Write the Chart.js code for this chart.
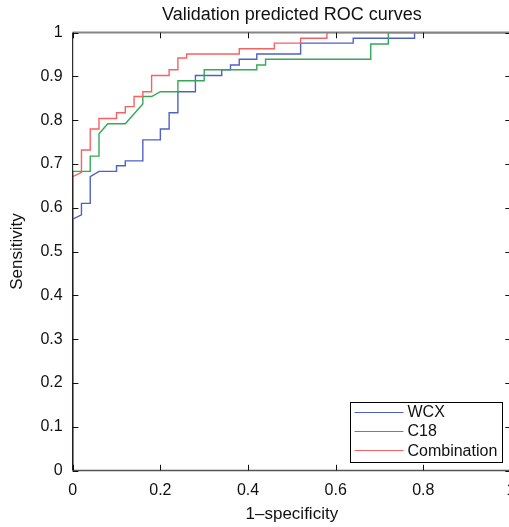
<!DOCTYPE html>
<html><head><meta charset="utf-8">
<script src="https://cdn.jsdelivr.net/npm/chart.js@4.4.1/dist/chart.umd.min.js"></script>
<style>html,body{margin:0;padding:0;background:#fff;overflow:hidden;}#wrap{width:512px;height:527px;position:relative;}</style>
</head><body><div id="wrap"><canvas id="c"></canvas></div>
<script>
// ---- text ----
const chartTitle = 'Validation predicted ROC curves';
const xAxisTitle = '1\u2013specificity';
const yAxisTitle = 'Sensitivity';
const seriesNames = ['WCX', 'C18', 'Combination'];
const xTickLabels = ['0', '0.2', '0.4', '0.6', '0.8', '1'];
const yTickLabels = ['0', '0.1', '0.2', '0.3', '0.4', '0.5', '0.6', '0.7', '0.8', '0.9', '1'];

// ---- data (ROC vertices: false positive rate, true positive rate) ----
const wcxFpr = [0, 0, 0.02, 0.02, 0.04, 0.04, 0.06, 0.10, 0.10, 0.12, 0.12, 0.16, 0.16, 0.20, 0.20, 0.22, 0.22, 0.24, 0.24, 0.28, 0.28, 0.34, 0.34, 0.36, 0.36, 0.38, 0.38, 0.42, 0.42, 0.52, 0.52, 0.64, 0.64, 0.78, 0.78, 1];
const wcxTpr = [0, 0.574, 0.584, 0.610, 0.610, 0.671, 0.683, 0.683, 0.696, 0.696, 0.707, 0.707, 0.755, 0.755, 0.780, 0.780, 0.817, 0.817, 0.865, 0.865, 0.902, 0.902, 0.915, 0.915, 0.926, 0.926, 0.939, 0.939, 0.951, 0.951, 0.976, 0.976, 0.987, 0.987, 1, 1];

const c18Fpr = [0, 0, 0.04, 0.04, 0.06, 0.06, 0.08, 0.12, 0.16, 0.16, 0.18, 0.20, 0.24, 0.24, 0.30, 0.30, 0.42, 0.42, 0.44, 0.44, 0.68, 0.68, 0.72, 0.72, 1];
const c18Tpr = [0, 0.683, 0.683, 0.718, 0.718, 0.769, 0.792, 0.792, 0.837, 0.854, 0.854, 0.865, 0.865, 0.890, 0.890, 0.915, 0.915, 0.926, 0.926, 0.939, 0.939, 0.974, 0.974, 1, 1];

const combFpr = [0, 0, 0.02, 0.02, 0.04, 0.04, 0.06, 0.06, 0.10, 0.10, 0.12, 0.12, 0.14, 0.14, 0.16, 0.16, 0.18, 0.18, 0.22, 0.22, 0.24, 0.24, 0.26, 0.26, 0.38, 0.38, 0.46, 0.46, 0.52, 0.52, 0.58, 0.58, 1];
const combTpr = [0, 0.671, 0.681, 0.732, 0.732, 0.780, 0.780, 0.804, 0.804, 0.817, 0.817, 0.831, 0.831, 0.854, 0.854, 0.865, 0.865, 0.902, 0.902, 0.915, 0.915, 0.942, 0.942, 0.951, 0.951, 0.963, 0.963, 0.976, 0.976, 0.987, 0.987, 1, 1];

// ---- styles ----
const FONT = '"Liberation Sans", Arial, Helvetica, sans-serif';
const seriesColors = ['rgb(78,98,196)', 'rgb(52,168,86)', 'rgb(246,98,98)'];

const toPoints = (xs, ys) => xs.map((x, i) => ({ x: x, y: ys[i] }));
const seriesX = [wcxFpr, c18Fpr, combFpr];
const seriesY = [wcxTpr, c18Tpr, combTpr];

const datasets = seriesNames.map((name, i) => ({
  label: name,
  data: toPoints(seriesX[i], seriesY[i]),
  borderColor: seriesColors[i],
  backgroundColor: seriesColors[i],
  borderWidth: 1.4,
  pointRadius: 0,
  showLine: true,
  tension: 0,
  fill: false,
  order: seriesNames.length - i
}));

// frame + inward ticks (MATLAB box style)
const frameTicks = {
  id: 'frameTicks',
  afterDatasetsDraw(chart) {
    const ctx = chart.ctx, ca = chart.chartArea;
    const xs = chart.scales.x, ys = chart.scales.y;
    const L = ca.left, R = ca.right, T = ca.top, B = ca.bottom;
    const tl = 5.7;
    ctx.save();
    ctx.strokeStyle = '#858585'; ctx.lineWidth = 2;
    ctx.beginPath(); ctx.moveTo(L, T); ctx.lineTo(R, T); ctx.stroke();
    ctx.strokeStyle = '#555'; ctx.lineWidth = 1.6;
    ctx.beginPath(); ctx.moveTo(L, B); ctx.lineTo(R, B); ctx.stroke();
    ctx.strokeStyle = '#555'; ctx.lineWidth = 1;
    ctx.beginPath(); ctx.moveTo(R, T); ctx.lineTo(R, B); ctx.stroke();
    ctx.strokeStyle = '#111'; ctx.lineWidth = 1;
    ctx.beginPath();
    xs.ticks.forEach(t => {
      const px = Math.round(xs.getPixelForValue(t.value)) + 0.5;
      ctx.moveTo(px, B); ctx.lineTo(px, B - tl);
      ctx.moveTo(px, T); ctx.lineTo(px, T + tl);
    });
    ys.ticks.forEach(t => {
      const py = Math.round(ys.getPixelForValue(t.value)) + 0.5;
      ctx.moveTo(L, py); ctx.lineTo(L + tl, py);
      ctx.moveTo(R, py); ctx.lineTo(R - tl, py);
    });
    ctx.stroke();
    ctx.strokeStyle = '#000'; ctx.lineWidth = 1;
    ctx.beginPath(); ctx.moveTo(L, T); ctx.lineTo(L, B); ctx.stroke();
    ctx.restore();
  }
};

// legend box inside the plot (lower right)
const legendBox = {
  id: 'legendBox',
  afterDraw(chart) {
    const ctx = chart.ctx, ca = chart.chartArea;
    const ds = chart.data.datasets;
    ctx.save();
    ctx.font = '16px ' + FONT;
    const textW = Math.max(...ds.map(d => ctx.measureText(d.label).width));
    const padL = 4.5, lineLen = 49, gap = 4, padR = 5, rowH = 19.2, padT = 9.4;
    const w = padL + lineLen + gap + textW + padR;
    const h = 60;
    const right = 502.3, bottom = ca.bottom - 8.2;
    const left = right - w, top = bottom - h;
    ctx.fillStyle = '#fff';
    ctx.fillRect(left, top, w, h);
    ctx.strokeStyle = '#000'; ctx.lineWidth = 1;
    ctx.strokeRect(Math.round(left) + 0.5, Math.round(top) + 0.5, Math.round(w), Math.round(h));
    ds.forEach((d, i) => {
      const cy = top + padT + i * rowH;
      ctx.strokeStyle = d.borderColor; ctx.lineWidth = 1.2;
      ctx.beginPath(); ctx.moveTo(left + padL, Math.round(cy) + 0.5); ctx.lineTo(left + padL + lineLen, Math.round(cy) + 0.5); ctx.stroke();
      ctx.fillStyle = '#111'; ctx.textBaseline = 'middle'; ctx.textAlign = 'left';
      ctx.fillText(d.label, left + padL + lineLen + gap, cy + 1);
    });
    ctx.restore();
  }
};

new Chart(document.getElementById('c'), {
  type: 'scatter',
  data: { datasets: datasets },
  options: {
    responsive: true,
    maintainAspectRatio: false,
    animation: false,
    layout: { padding: { left: 0, right: 1, top: 0, bottom: 0 } },
    plugins: {
      legend: { display: false },
      tooltip: { enabled: false },
      title: {
        display: true, text: chartTitle, fullSize: false,
        color: '#111', font: { family: FONT, size: 18, weight: 'normal' },
        padding: { top: 4, bottom: 7 }
      }
    },
    scales: {
      x: {
        type: 'linear', min: 0, max: 1,
        grid: { display: false, drawTicks: false },
        border: { display: false },
        ticks: {
          stepSize: 0.2, padding: 10, color: '#111', maxRotation: 0, autoSkip: false,
          font: { family: FONT, size: 16 },
          callback: (v, i) => xTickLabels[i]
        },
        title: {
          display: true, text: xAxisTitle, color: '#111',
          font: { family: FONT, size: 17 }, padding: { top: 0, bottom: 2 }
        },
        afterFit: s => { s.height = 56.5; s.paddingLeft = 0; s.paddingRight = 0; }
      },
      y: {
        type: 'linear', min: 0, max: 1,
        grid: { display: false, drawTicks: false },
        border: { display: false },
        ticks: {
          stepSize: 0.1, padding: 10, color: '#111', autoSkip: false,
          font: { family: FONT, size: 16 },
          callback: (v, i) => yTickLabels[i]
        },
        title: {
          display: true, text: yAxisTitle, color: '#111',
          font: { family: FONT, size: 17 }, padding: { top: 7, bottom: 0 }
        },
        afterFit: s => { s.width = 72.7; s.paddingTop = 0; s.paddingBottom = 0; }
      }
    }
  },
  plugins: [frameTicks, legendBox]
});
</script>
</body></html>
